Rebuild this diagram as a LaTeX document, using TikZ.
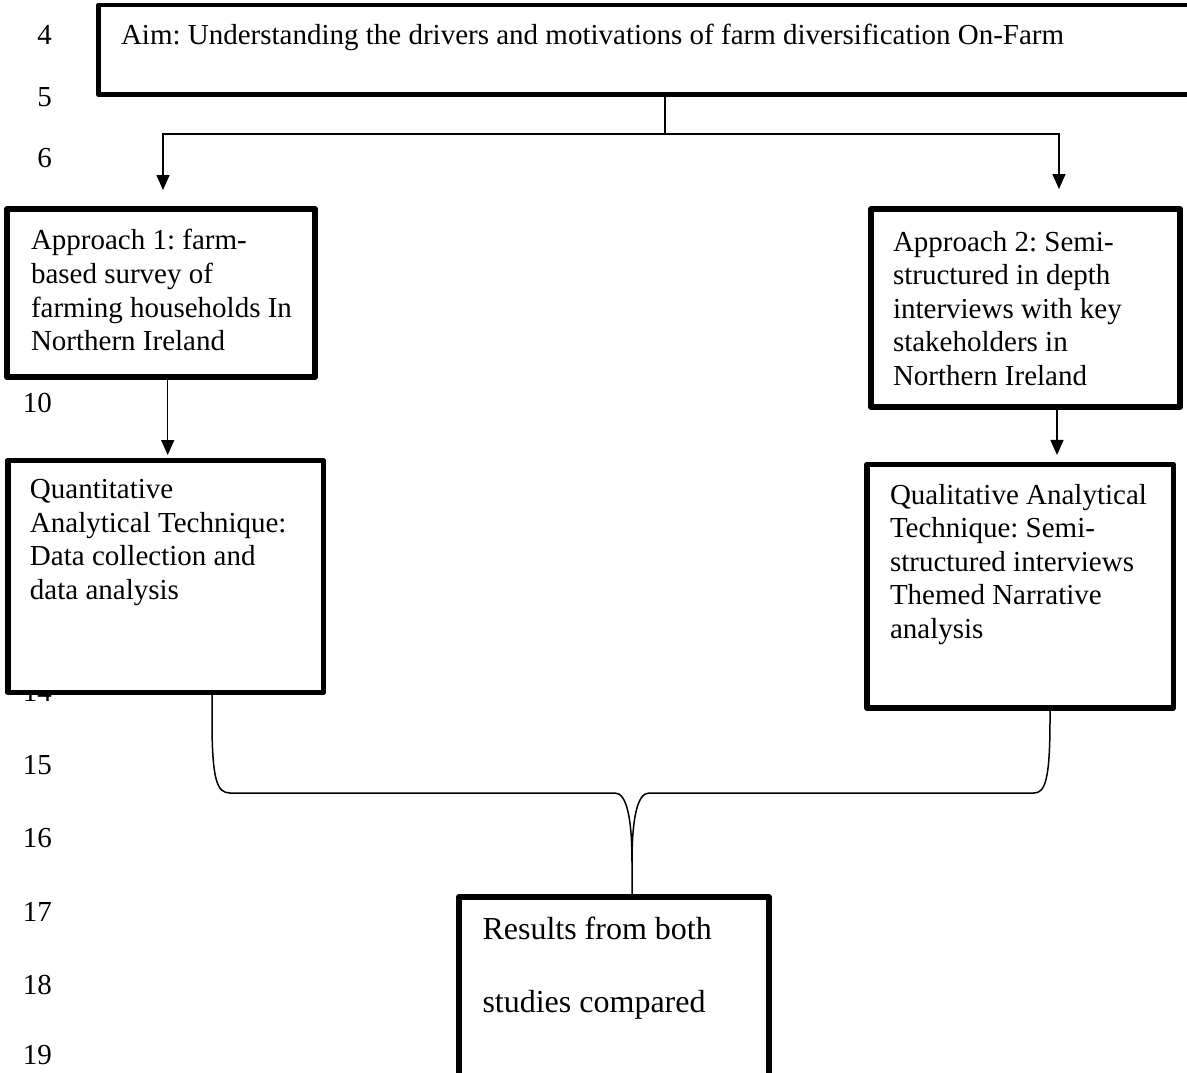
\documentclass[tikz,border=0pt]{standalone}
\usepackage{fontspec}
\setmainfont{Liberation Serif}
\usetikzlibrary{arrows.meta}
\begin{document}
\frenchspacing
\begin{tikzpicture}[x=1pt,y=-1pt,
  box/.style={draw,line width=5.5pt,line join=round,fill=white,inner sep=0pt,outer sep=0pt,rectangle},
  txt/.style={anchor=north west,inner sep=0pt,outer sep=0pt,align=left,font=\fontsize{29}{33.6}\selectfont},
  lnum/.style={anchor=east,inner sep=0pt,outer sep=0pt,font=\fontsize{29}{30}\selectfont},
  conn/.style={line width=1.5pt},
  arr/.style={conn,-{Triangle[width=13pt,length=15pt]}}]
\useasboundingbox (0,0) rectangle (1187,1073);
\clip (0,0) rectangle (1187,1073);
\fill[white] (0,0) rectangle (1187,1073);

% line numbers
\node[lnum] (n4) at (52,35) {4};
\node[lnum] (n5) at (52,97) {5};
\node[lnum] (n6) at (52,158) {6};
\node[lnum] (n10) at (52,403) {10};
\node[lnum] (n14) at (52,692) {14};
\node[lnum] (n15) at (52,765) {15};
\node[lnum] (n16) at (52,838) {16};
\node[lnum] (n17) at (52,912) {17};
\node[lnum] (n18) at (52,985) {18};
\node[lnum] (n19) at (52,1055) {19};

% boxes
\node[box,line width=4.8pt,minimum width=1101.5pt,minimum height=89.5pt] (aim) at (649.25,49.75) {};
\node[box,line width=6pt,minimum width=308pt,minimum height=168pt] (app1) at (161,293) {};
\node[box,minimum width=315.5pt,minimum height=231.75pt] (quant) at (165.5,576.4) {};
\node[box,line width=6pt,minimum width=309pt,minimum height=198pt] (app2) at (1025.5,308) {};
\node[box,minimum width=306.5pt,minimum height=243.5pt] (qual) at (1020,586.2) {};
\node[box,minimum width=310.25pt,minimum height=198.25pt] (res) at (613.9,995.9) {};

% texts
\node[txt] (taim) at (121,24.2) {Aim: Understanding the drivers and motivations of farm diversification On-Farm};
\node[txt] (tapp1) at (31,229.5) {Approach 1: farm-\\based survey of\\farming households In\\Northern Ireland};
\node[txt] (tquant) at (30,479.5) {Quantitative\\Analytical Technique:\\Data collection and\\data analysis};
\node[txt] (tapp2) at (893,231) {Approach 2: Semi-\\structured in depth\\interviews with key\\stakeholders in\\Northern Ireland};
\node[txt] (tqual) at (890,484) {Qualitative Analytical\\Technique: Semi-\\structured interviews\\Themed Narrative\\analysis};
\node[txt,font=\fontsize{32}{72.7}\selectfont] (tres) at (482.5,917) {Results from both\\studies compared};

% connectors
\coordinate (split) at (665,134);
\coordinate (t1) at (163,190);
\coordinate (t2) at (1059,189);
\draw[conn] (split |- aim.south) -- (split);
\draw[arr] (split) -| (t1);
\draw[arr] (split) -| (t2);
\draw[arr] ([xshift=6.7pt]app1.south) -- ([xshift=2.2pt,yshift=5.5pt]quant.north);
\draw[arr] ([xshift=31.5pt]app2.south) -- ([xshift=37pt,yshift=9.5pt]qual.north);

% brace
\draw[conn] ([xshift=46.5pt]quant.south) -- (212,720) .. controls (212,780) and (217,793) .. (230,793)
  -- (615,793) .. controls (627,793) and (632,820) .. (632,862) -- ([xshift=18.1pt]res.north);
\draw[conn] ([xshift=30pt]qual.south) -- (1050,720) .. controls (1050,780) and (1045,793) .. (1034,793)
  -- (649,793) .. controls (637,793) and (632,820) .. (632,862);
\end{tikzpicture}
\end{document}
